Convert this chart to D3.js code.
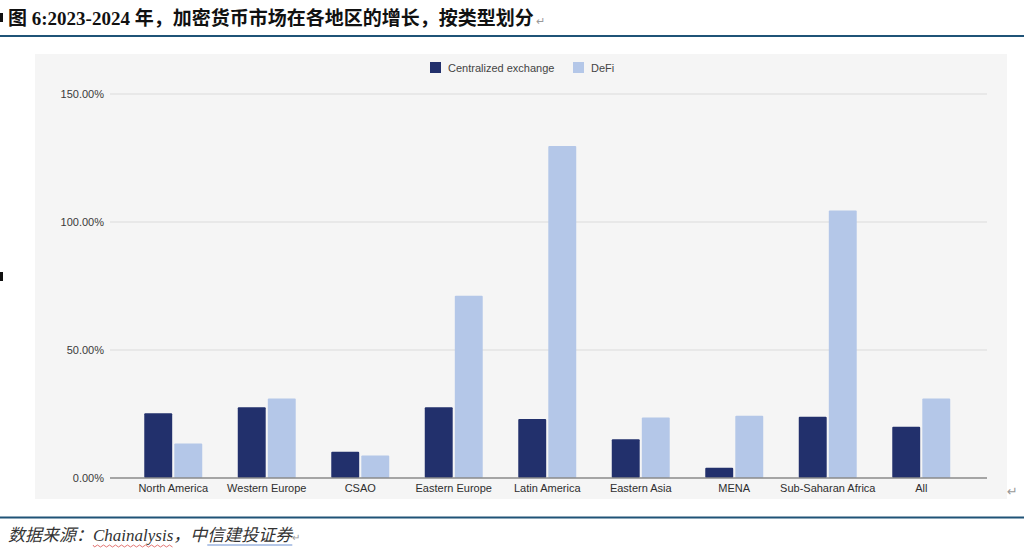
<!DOCTYPE html>
<html>
<head>
<meta charset="utf-8">
<script src="https://cdn.jsdelivr.net/npm/d3@7"></script>
<style>
html,body{margin:0;padding:0;background:#fff;}
svg{display:block;}
</style>
</head>
<body>
<svg id="c" width="1024" height="550"></svg>
<script>
const categories = ["North America","Western Europe","CSAO","Eastern Europe","Latin America","Eastern Asia","MENA","Sub-Saharan Africa","All"];
const seriesNames = ["Centralized exchange","DeFi"];
const centralized = [25.3, 27.6, 10.3, 27.6, 23.0, 15.1, 4.0, 23.9, 20.0];
const defi = [13.5, 31.1, 8.8, 71.2, 129.7, 23.6, 24.3, 104.5, 31.1];
const yTicks = [0, 50, 100, 150];
const colors = ["#22306c", "#b4c7e8"];

const svg = d3.select("#c");

// Title
svg.append("rect").attr("x",0).attr("y",13).attr("width",3).attr("height",9).attr("fill","#111");
const title = svg.append("text").attr("x",8).attr("y",24.5)
  .attr("font-family","'Liberation Serif','Noto Sans CJK SC',serif")
  .attr("font-weight","bold").attr("font-size",19).attr("fill","#111")
  .text("图 6:2023-2024 年，加密货币市场在各地区的增长，按类型划分");
title.append("tspan").attr("font-weight","normal").attr("font-size",11).attr("fill","#999").attr("dx",2).text("↵");
svg.append("rect").attr("x",0).attr("y",35).attr("width",1024).attr("height",2).attr("fill","#1f5377");

// Panel
svg.append("rect").attr("x",35).attr("y",54).attr("width",972).attr("height",445).attr("fill","#f5f5f5");
svg.append("rect").attr("x",0).attr("y",272).attr("width",3).attr("height",9).attr("fill","#111");

const y = d3.scaleLinear().domain([0,150]).range([478,94]);
const x = d3.scaleBand().domain(categories).range([126.5,968]).paddingInner(0.38).paddingOuter(0.19);
const xs = d3.scaleBand().domain(seriesNames).range([0,x.bandwidth()]).paddingInner(0.07);

// Gridlines
const grid = svg.append("g");
grid.selectAll("line").data(yTicks.filter(d=>d>0)).join("line")
  .attr("x1",110).attr("x2",987).attr("y1",d=>y(d)).attr("y2",d=>y(d))
  .attr("stroke","#dcdcdc").attr("stroke-width",1.2);

// Y axis labels
const yAxis = d3.axisLeft(y).tickValues(yTicks).tickSize(0).tickPadding(0)
  .tickFormat(d=>d3.format(".2f")(d)+"%");
const ya = svg.append("g").attr("transform","translate(104,0)").call(yAxis);
ya.select(".domain").remove();
ya.selectAll("text").attr("font-family","'Liberation Sans',Arial,sans-serif").attr("font-size",11).attr("fill","#3a3a3a");

// Bars
const data = categories.map((c,i)=>({cat:c, vals:[centralized[i], defi[i]]}));
const groups = svg.append("g").selectAll("g").data(data).join("g")
  .attr("transform",d=>`translate(${x(d.cat)},0)`);
groups.selectAll("rect").data(d=>d.vals.map((v,j)=>({v, s:seriesNames[j], j}))).join("rect")
  .attr("x",d=>xs(d.s)).attr("width",xs.bandwidth())
  .attr("y",d=>y(d.v)).attr("height",d=>y(0)-y(d.v))
  .attr("fill",d=>colors[d.j]).attr("rx",1);

// Baseline
svg.append("line").attr("x1",110).attr("x2",987).attr("y1",y(0)).attr("y2",y(0)).attr("stroke","#8a8a8a").attr("stroke-width",1.5);

// X axis labels
const xAxis = d3.axisBottom(x).tickSize(0).tickPadding(6);
const xa = svg.append("g").attr("transform",`translate(0,${y(0)})`).call(xAxis);
xa.select(".domain").remove();
xa.selectAll("text").attr("font-family","'Liberation Sans',Arial,sans-serif").attr("font-size",11).attr("fill","#2e2e2e");

// Legend
const leg = svg.append("g");
const legItems = [{n:seriesNames[0],x:430,c:colors[0]},{n:seriesNames[1],x:573,c:colors[1]}];
legItems.forEach(it=>{
  leg.append("rect").attr("x",it.x).attr("y",62).attr("width",11).attr("height",11).attr("fill",it.c);
  leg.append("text").attr("x",it.x+18).attr("y",71.5).attr("font-family","'Liberation Sans',Arial,sans-serif")
    .attr("font-size",11).attr("fill","#444").text(it.n);
});

// return mark right
svg.append("text").attr("x",1007).attr("y",496).attr("font-family","'DejaVu Sans'").attr("font-size",13).attr("fill","#999").text("↵");

// Bottom rule
svg.append("rect").attr("x",0).attr("y",516.5).attr("width",1024).attr("height",2).attr("fill","#1f5377");

// Source
const src = svg.append("text").attr("x",8).attr("y",541)
  .attr("font-family","'Liberation Serif','Noto Sans CJK SC',serif").attr("font-size",17)
  .attr("font-style","italic").attr("fill","#333");
src.append("tspan").text("数据来源：");
src.append("tspan").text("Chainalysis");
src.append("tspan").text("，");
src.append("tspan").text("中信建投证券");
src.append("tspan").attr("font-style","normal").attr("font-size",10).attr("fill","#999").text("↵");

// underline decorations
function extentOf(node, startChar, nChars){
  const s = node.getStartPositionOfChar(startChar).x;
  const e = node.getEndPositionOfChar(startChar+nChars-1).x;
  return [s,e];
}
const sn = src.node();
const [c0,c1] = extentOf(sn, 5, 11);
let wave = "M"+c0+",545";
for(let xx=c0; xx<c1; xx+=3){ wave += ` L${xx+1.5},${(((xx-c0)/3)%2===0)?547:545}`; }
svg.append("path").attr("d",wave).attr("fill","none").attr("stroke","#d9534f").attr("stroke-width",0.8);
const [b0,b1] = extentOf(sn, 18, 5);
svg.append("line").attr("x1",b0).attr("x2",b1).attr("y1",545).attr("y2",545).attr("stroke","#6a8fd0").attr("stroke-width",1);
</script>
</body>
</html>
